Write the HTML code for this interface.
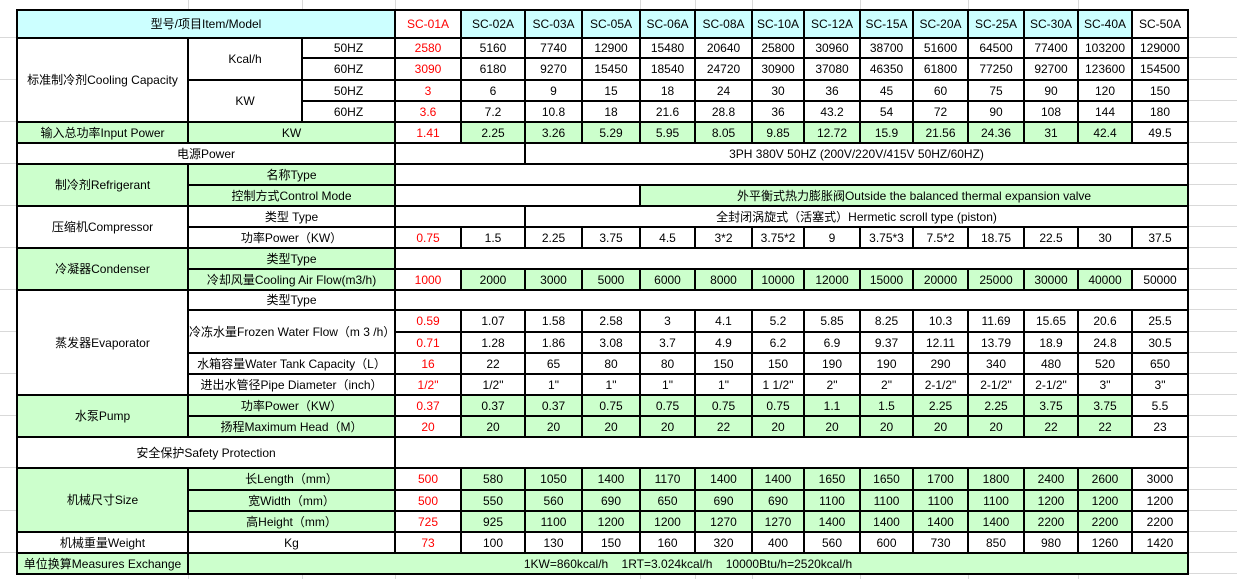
<!DOCTYPE html>
<html><head><meta charset="utf-8"><style>
html,body{margin:0;padding:0;background:#fff;width:1237px;height:579px;overflow:hidden;position:relative}
.gl{position:absolute;background:#d9d9d9}
table{position:absolute;left:16px;top:9px;border-collapse:collapse;table-layout:fixed;width:1172px;font-family:"Liberation Sans","Noto Sans CJK SC",sans-serif;font-size:12px;color:#000}
td{border:2px solid #000;padding:0;text-align:center;vertical-align:middle;white-space:nowrap;overflow:hidden;line-height:14px}
.c{background:#ccffff}.g{background:#ccffcc}.r{color:#ff0000}
.w{white-space:normal}
</style></head><body>
<div class="gl" style="left:0;top:37px;width:16px;height:1px"></div>
<div class="gl" style="left:0;top:79px;width:16px;height:1px"></div>
<div class="gl" style="left:0;top:121px;width:16px;height:1px"></div>
<div class="gl" style="left:0;top:163px;width:16px;height:1px"></div>
<div class="gl" style="left:0;top:205px;width:16px;height:1px"></div>
<div class="gl" style="left:0;top:247px;width:16px;height:1px"></div>
<div class="gl" style="left:0;top:289px;width:16px;height:1px"></div>
<div class="gl" style="left:0;top:331px;width:16px;height:1px"></div>
<div class="gl" style="left:0;top:373px;width:16px;height:1px"></div>
<div class="gl" style="left:0;top:415px;width:16px;height:1px"></div>
<div class="gl" style="left:0;top:467px;width:16px;height:1px"></div>
<div class="gl" style="left:0;top:510px;width:16px;height:1px"></div>
<div class="gl" style="left:0;top:552px;width:16px;height:1px"></div>
<div class="gl" style="left:1189px;top:37px;width:48px;height:1px"></div>
<div class="gl" style="left:1189px;top:57px;width:48px;height:1px"></div>
<div class="gl" style="left:1189px;top:79px;width:48px;height:1px"></div>
<div class="gl" style="left:1189px;top:100px;width:48px;height:1px"></div>
<div class="gl" style="left:1189px;top:121px;width:48px;height:1px"></div>
<div class="gl" style="left:1189px;top:142px;width:48px;height:1px"></div>
<div class="gl" style="left:1189px;top:163px;width:48px;height:1px"></div>
<div class="gl" style="left:1189px;top:184px;width:48px;height:1px"></div>
<div class="gl" style="left:1189px;top:205px;width:48px;height:1px"></div>
<div class="gl" style="left:1189px;top:226px;width:48px;height:1px"></div>
<div class="gl" style="left:1189px;top:247px;width:48px;height:1px"></div>
<div class="gl" style="left:1189px;top:268px;width:48px;height:1px"></div>
<div class="gl" style="left:1189px;top:289px;width:48px;height:1px"></div>
<div class="gl" style="left:1189px;top:309px;width:48px;height:1px"></div>
<div class="gl" style="left:1189px;top:331px;width:48px;height:1px"></div>
<div class="gl" style="left:1189px;top:352px;width:48px;height:1px"></div>
<div class="gl" style="left:1189px;top:373px;width:48px;height:1px"></div>
<div class="gl" style="left:1189px;top:394px;width:48px;height:1px"></div>
<div class="gl" style="left:1189px;top:415px;width:48px;height:1px"></div>
<div class="gl" style="left:1189px;top:436px;width:48px;height:1px"></div>
<div class="gl" style="left:1189px;top:467px;width:48px;height:1px"></div>
<div class="gl" style="left:1189px;top:489px;width:48px;height:1px"></div>
<div class="gl" style="left:1189px;top:510px;width:48px;height:1px"></div>
<div class="gl" style="left:1189px;top:531px;width:48px;height:1px"></div>
<div class="gl" style="left:1189px;top:552px;width:48px;height:1px"></div>
<div class="gl" style="left:1189px;top:573px;width:48px;height:1px"></div>
<div class="gl" style="left:188px;top:0;width:1px;height:9px"></div>
<div class="gl" style="left:302px;top:0;width:1px;height:9px"></div>
<div class="gl" style="left:395px;top:0;width:1px;height:9px"></div>
<div class="gl" style="left:640px;top:0;width:1px;height:9px"></div>
<div class="gl" style="left:695px;top:0;width:1px;height:9px"></div>
<div class="gl" style="left:752px;top:0;width:1px;height:9px"></div>
<div class="gl" style="left:860px;top:0;width:1px;height:9px"></div>
<div class="gl" style="left:968px;top:0;width:1px;height:9px"></div>
<div class="gl" style="left:1078px;top:0;width:1px;height:9px"></div>
<div class="gl" style="left:188px;top:574px;width:1px;height:5px"></div>
<div class="gl" style="left:302px;top:574px;width:1px;height:5px"></div>
<div class="gl" style="left:395px;top:574px;width:1px;height:5px"></div>
<div class="gl" style="left:640px;top:574px;width:1px;height:5px"></div>
<div class="gl" style="left:695px;top:574px;width:1px;height:5px"></div>
<div class="gl" style="left:752px;top:574px;width:1px;height:5px"></div>
<div class="gl" style="left:860px;top:574px;width:1px;height:5px"></div>
<div class="gl" style="left:968px;top:574px;width:1px;height:5px"></div>
<div class="gl" style="left:1078px;top:574px;width:1px;height:5px"></div>
<table>
<colgroup>
<col style="width:171px"><col style="width:114px"><col style="width:93px">
<col style="width:66px"><col style="width:64px"><col style="width:57px"><col style="width:58px">
<col style="width:55px"><col style="width:57px"><col style="width:52px"><col style="width:56px">
<col style="width:53px"><col style="width:55px"><col style="width:56px"><col style="width:54px">
<col style="width:54px"><col style="width:56px">
</colgroup>
<tr style="height:28px"><td colspan="3" class="c">型号/项目Item/Model</td><td class="r">SC-01A</td><td class="c">SC-02A</td><td class="c">SC-03A</td><td class="c">SC-05A</td><td class="c">SC-06A</td><td class="c">SC-08A</td><td class="c">SC-10A</td><td class="c">SC-12A</td><td class="c">SC-15A</td><td class="c">SC-20A</td><td class="c">SC-25A</td><td class="c">SC-30A</td><td class="c">SC-40A</td><td>SC-50A</td></tr>
<tr style="height:20px"><td rowspan="4">标准制冷剂Cooling Capacity</td><td rowspan="2">Kcal/h</td><td>50HZ</td><td class="r">2580</td><td>5160</td><td>7740</td><td>12900</td><td>15480</td><td>20640</td><td>25800</td><td>30960</td><td>38700</td><td>51600</td><td>64500</td><td>77400</td><td>103200</td><td>129000</td></tr>
<tr style="height:22px"><td>60HZ</td><td class="r">3090</td><td>6180</td><td>9270</td><td>15450</td><td>18540</td><td>24720</td><td>30900</td><td>37080</td><td>46350</td><td>61800</td><td>77250</td><td>92700</td><td>123600</td><td>154500</td></tr>
<tr style="height:21px"><td rowspan="2">KW</td><td>50HZ</td><td class="r">3</td><td>6</td><td>9</td><td>15</td><td>18</td><td>24</td><td>30</td><td>36</td><td>45</td><td>60</td><td>75</td><td>90</td><td>120</td><td>150</td></tr>
<tr style="height:21px"><td>60HZ</td><td class="r">3.6</td><td>7.2</td><td>10.8</td><td>18</td><td>21.6</td><td>28.8</td><td>36</td><td>43.2</td><td>54</td><td>72</td><td>90</td><td>108</td><td>144</td><td>180</td></tr>
<tr style="height:21px" class="g"><td>输入总功率Input Power</td><td colspan="2">KW</td><td class="r" style="background:#fff">1.41</td><td>2.25</td><td>3.26</td><td>5.29</td><td>5.95</td><td>8.05</td><td>9.85</td><td>12.72</td><td>15.9</td><td>21.56</td><td>24.36</td><td>31</td><td>42.4</td><td style="background:#fff">49.5</td></tr>
<tr style="height:21px"><td colspan="3">电源Power</td><td colspan="2"></td><td colspan="12">3PH 380V 50HZ (200V/220V/415V 50HZ/60HZ)</td></tr>
<tr style="height:21px"><td rowspan="2" class="g">制冷剂Refrigerant</td><td colspan="2" class="g">名称Type</td><td colspan="14"></td></tr>
<tr style="height:21px"><td colspan="2" class="g">控制方式Control Mode</td><td colspan="4"></td><td colspan="10" class="g">外平衡式热力膨胀阀Outside the balanced thermal expansion valve</td></tr>
<tr style="height:21px"><td rowspan="2">压缩机Compressor</td><td colspan="2">类型 Type</td><td colspan="2"></td><td colspan="12">全封闭涡旋式（活塞式）Hermetic scroll type (piston)</td></tr>
<tr style="height:21px"><td colspan="2">功率Power（KW）</td><td class="r">0.75</td><td>1.5</td><td>2.25</td><td>3.75</td><td>4.5</td><td>3*2</td><td>3.75*2</td><td>9</td><td>3.75*3</td><td>7.5*2</td><td>18.75</td><td>22.5</td><td>30</td><td>37.5</td></tr>
<tr style="height:21px"><td rowspan="2" class="g">冷凝器Condenser</td><td colspan="2" class="g">类型Type</td><td colspan="14"></td></tr>
<tr style="height:21px" class="g"><td colspan="2">冷却风量Cooling Air Flow(m3/h)</td><td class="r" style="background:#fff">1000</td><td>2000</td><td>3000</td><td>5000</td><td>6000</td><td>8000</td><td>10000</td><td>12000</td><td>15000</td><td>20000</td><td>25000</td><td>30000</td><td>40000</td><td style="background:#fff">50000</td></tr>
<tr style="height:20px"><td rowspan="5">蒸发器Evaporator</td><td colspan="2">类型Type</td><td colspan="14"></td></tr>
<tr style="height:22px"><td colspan="2" rowspan="2" class="w">冷冻水量Frozen Water Flow（m 3 /h）</td><td class="r">0.59</td><td>1.07</td><td>1.58</td><td>2.58</td><td>3</td><td>4.1</td><td>5.2</td><td>5.85</td><td>8.25</td><td>10.3</td><td>11.69</td><td>15.65</td><td>20.6</td><td>25.5</td></tr>
<tr style="height:21px"><td class="r">0.71</td><td>1.28</td><td>1.86</td><td>3.08</td><td>3.7</td><td>4.9</td><td>6.2</td><td>6.9</td><td>9.37</td><td>12.11</td><td>13.79</td><td>18.9</td><td>24.8</td><td>30.5</td></tr>
<tr style="height:21px"><td colspan="2">水箱容量Water Tank Capacity（L）</td><td class="r">16</td><td>22</td><td>65</td><td>80</td><td>80</td><td>150</td><td>150</td><td>190</td><td>190</td><td>290</td><td>340</td><td>480</td><td>520</td><td>650</td></tr>
<tr style="height:21px"><td colspan="2">进出水管径Pipe Diameter（inch）</td><td class="r">1/2"</td><td>1/2"</td><td>1"</td><td>1"</td><td>1"</td><td>1"</td><td>1 1/2"</td><td>2"</td><td>2"</td><td>2-1/2"</td><td>2-1/2"</td><td>2-1/2"</td><td>3"</td><td>3"</td></tr>
<tr style="height:21px" class="g"><td rowspan="2">水泵Pump</td><td colspan="2">功率Power（KW）</td><td class="r" style="background:#fff">0.37</td><td>0.37</td><td>0.37</td><td>0.75</td><td>0.75</td><td>0.75</td><td>0.75</td><td>1.1</td><td>1.5</td><td>2.25</td><td>2.25</td><td>3.75</td><td>3.75</td><td style="background:#fff">5.5</td></tr>
<tr style="height:21px" class="g"><td colspan="2">扬程Maximum Head（M）</td><td class="r" style="background:#fff">20</td><td>20</td><td>20</td><td>20</td><td>20</td><td>22</td><td>20</td><td>20</td><td>20</td><td>20</td><td>20</td><td>22</td><td>22</td><td style="background:#fff">23</td></tr>
<tr style="height:31px"><td colspan="3">安全保护Safety Protection</td><td colspan="14"></td></tr>
<tr style="height:22px" class="g"><td rowspan="3">机械尺寸Size</td><td colspan="2">长Length（mm）</td><td class="r" style="background:#fff">500</td><td>580</td><td>1050</td><td>1400</td><td>1170</td><td>1400</td><td>1400</td><td>1650</td><td>1650</td><td>1700</td><td>1800</td><td>2400</td><td>2600</td><td style="background:#fff">3000</td></tr>
<tr style="height:21px" class="g"><td colspan="2">宽Width（mm）</td><td class="r" style="background:#fff">500</td><td>550</td><td>560</td><td>690</td><td>650</td><td>690</td><td>690</td><td>1100</td><td>1100</td><td>1100</td><td>1100</td><td>1200</td><td>1200</td><td style="background:#fff">1200</td></tr>
<tr style="height:21px" class="g"><td colspan="2">高Height（mm）</td><td class="r" style="background:#fff">725</td><td>925</td><td>1100</td><td>1200</td><td>1200</td><td>1270</td><td>1270</td><td>1400</td><td>1400</td><td>1400</td><td>1400</td><td>2200</td><td>2200</td><td style="background:#fff">2200</td></tr>
<tr style="height:21px"><td>机械重量Weight</td><td colspan="2">Kg</td><td class="r">73</td><td>100</td><td>130</td><td>150</td><td>160</td><td>320</td><td>400</td><td>560</td><td>600</td><td>730</td><td>850</td><td>980</td><td>1260</td><td>1420</td></tr>
<tr style="height:21px" class="g"><td>单位换算Measures Exchange</td><td colspan="16" style="white-space:pre">1KW=860kcal/h    1RT=3.024kcal/h    10000Btu/h=2520kcal/h</td></tr>
</table>
</body></html>
